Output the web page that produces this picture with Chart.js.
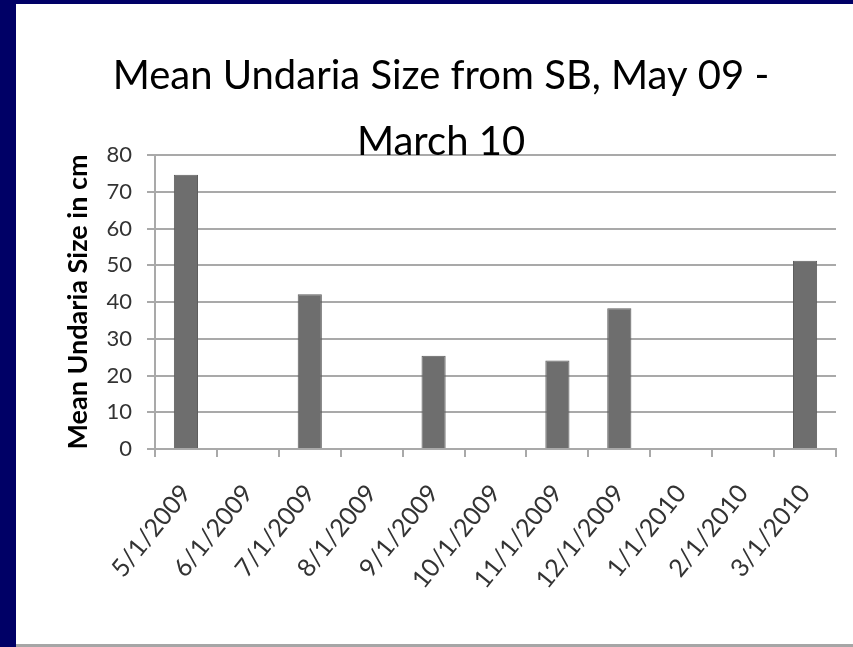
<!DOCTYPE html>
<html>
<head>
<meta charset="utf-8">
<script src="https://cdn.jsdelivr.net/npm/chart.js@4/dist/chart.umd.min.js"></script>
<style>
  html, body { margin: 0; padding: 0; }
  body { width: 853px; height: 647px; background: #000066; position: relative; overflow: hidden; }
  #panel {
    position: absolute; left: 16px; top: 4px; width: 837px; height: 640px;
    background: #ffffff; border-bottom: 3px solid #a6a6a6;
  }
  #wrap { position: absolute; left: 0; top: 0; width: 837px; height: 640px; }
</style>
</head>
<body>
<div id="panel">
  <div id="wrap"><canvas id="grafico"></canvas></div>
</div>
<script>
// dados
const categorias = ["5/1/2009", "6/1/2009", "7/1/2009", "8/1/2009", "9/1/2009", "10/1/2009",
  "11/1/2009", "12/1/2009", "1/1/2010", "2/1/2010", "3/1/2010"];
const tamanhoMedio = [74.6, null, 42.1, null, 25.4, null, 24.1, 38.3, null, null, 51.2];
const tituloLinhas = ["Mean Undaria Size from SB, May 09 -", "March 10"];
const tituloEixoY = "Mean Undaria Size in cm";
const yMin = 0, yMax = 80, yPasso = 10;

const cinzaGrade = "#a9a9a9";
const fonte = "Lato, 'Liberation Sans', sans-serif";

const ctx = document.getElementById("grafico").getContext("2d");
new Chart(ctx, {
  type: "bar",
  data: {
    labels: categorias,
    datasets: [
      {
        label: tituloEixoY,
        data: tamanhoMedio,
        backgroundColor: "#6e6e6e",
        borderColor: "#5e5e5e",
        borderWidth: 1,
        categoryPercentage: 1,
        barPercentage: 0.39,
      },
    ],
  },
  options: {
    responsive: true,
    maintainAspectRatio: false,
    animation: false,
    layout: { padding: { left: 30, right: 17, top: 0, bottom: 0 } },
    plugins: {
      legend: { display: false },
      tooltip: { enabled: false },
      title: {
        display: true,
        text: tituloLinhas,
        color: "#000000",
        font: { family: fonte, size: 40, weight: "normal", lineHeight: 1.65 },
        padding: { top: 39, bottom: -20 },
      },
    },
    scales: {
      x: {
        grid: {
          drawOnChartArea: false,
          drawTicks: true,
          tickLength: 8,
          color: cinzaGrade,
          lineWidth: 2,
        },
        border: { display: true, color: cinzaGrade, width: 2 },
        ticks: {
          color: "#333333",
          font: { family: fonte, size: 25 },
          minRotation: 51,
          maxRotation: 51,
          autoSkip: false,
          padding: 22,
        },
        afterFit: (scale) => {
          scale.height = 195;
        },
      },
      y: {
        min: yMin,
        max: yMax,
        grid: {
          drawTicks: true,
          tickLength: 8,
          color: cinzaGrade,
          lineWidth: 2,
        },
        border: { display: true, color: cinzaGrade, width: 2 },
        ticks: {
          stepSize: yPasso,
          color: "#333333",
          font: { family: fonte, size: 22 },
          padding: 15,
        },
        title: {
          display: true,
          text: tituloEixoY,
          color: "#000000",
          font: { family: fonte, size: 27, weight: "bold", lineHeight: 1.2 },
          padding: { top: 16, bottom: 0 },
        },
        afterFit: (scale) => {
          scale.width = 109;
        },
      },
    },
  },
});
</script>
</body>
</html>
